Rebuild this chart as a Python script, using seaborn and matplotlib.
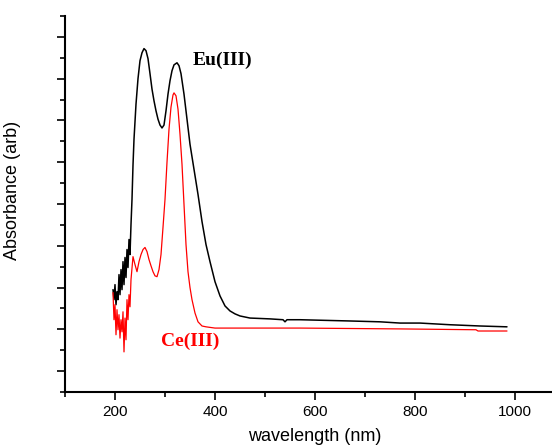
import matplotlib
matplotlib.use("Agg")
import matplotlib.pyplot as plt
from matplotlib.ticker import MultipleLocator
import seaborn as sns
import numpy as np
import pandas as pd

# Eu(III) absorbance spectrum
eu_nm = [196, 198, 200, 202, 204, 206, 208, 210, 212, 214, 216, 218, 220, 222,
         224, 226, 228, 230, 232, 234, 236, 238, 242, 246, 250, 254, 258, 262,
         266, 270, 274, 278, 282, 286, 290, 294, 298, 302, 306, 310, 314, 318,
         324, 328, 332, 338, 344, 350, 358, 366, 374, 382, 390, 400, 410, 420,
         430, 440, 450, 470, 510, 536, 540, 544, 570, 670, 730, 770, 810, 870,
         930, 984]
eu_abs = [0.295, 0.271, 0.307, 0.259, 0.290, 0.271, 0.331, 0.283, 0.343, 0.295,
          0.362, 0.307, 0.372, 0.324, 0.391, 0.348, 0.415, 0.379, 0.451, 0.511,
          0.593, 0.655, 0.739, 0.800, 0.843, 0.862, 0.872, 0.867, 0.848, 0.812,
          0.775, 0.747, 0.723, 0.703, 0.689, 0.682, 0.689, 0.723, 0.763, 0.795,
          0.819, 0.833, 0.838, 0.831, 0.812, 0.763, 0.703, 0.643, 0.583, 0.523,
          0.458, 0.403, 0.362, 0.314, 0.280, 0.256, 0.244, 0.237, 0.232, 0.227,
          0.225, 0.223, 0.218, 0.223, 0.223, 0.220, 0.218, 0.215, 0.215, 0.211,
          0.208, 0.206]

# Ce(III) absorbance spectrum
ce_nm = [196, 198, 200, 202, 204, 206, 208, 210, 212, 214, 216, 218, 220, 222,
         224, 226, 228, 230, 232, 236, 240, 244, 248, 252, 256, 260, 264, 268,
         272, 276, 280, 284, 288, 292, 296, 300, 304, 308, 312, 316, 318, 322,
         326, 330, 334, 338, 342, 346, 350, 354, 360, 366, 374, 382, 400, 470,
         570, 770, 922, 926, 984]
ce_abs = [0.288, 0.223, 0.259, 0.187, 0.247, 0.199, 0.235, 0.179, 0.223, 0.194,
          0.242, 0.146, 0.227, 0.175, 0.271, 0.223, 0.283, 0.254, 0.319, 0.374,
          0.355, 0.338, 0.362, 0.379, 0.391, 0.396, 0.386, 0.367, 0.352, 0.338,
          0.328, 0.326, 0.343, 0.379, 0.444, 0.511, 0.600, 0.679, 0.732, 0.761,
          0.766, 0.759, 0.727, 0.667, 0.595, 0.499, 0.403, 0.338, 0.300, 0.271,
          0.239, 0.218, 0.208, 0.206, 0.203, 0.203, 0.203, 0.201, 0.199, 0.196,
          0.196]

series_names = ["Eu(III)", "Ce(III)"]
series_colors = ["black", "red"]


def main():
    sns.set_style("ticks")
    plt.rcParams["font.family"] = ["Liberation Sans", "DejaVu Sans"]
    plt.rcParams["text.color"] = "black"
    plt.rcParams["axes.labelcolor"] = "black"

    df = pd.concat([
        pd.DataFrame({"wavelength": eu_nm, "absorbance": eu_abs, "ion": series_names[0]}),
        pd.DataFrame({"wavelength": ce_nm, "absorbance": ce_abs, "ion": series_names[1]}),
    ])

    fig = plt.figure(figsize=(5.52, 4.48), dpi=100)
    # axes run past the right edge of the picture, as in the original
    ax = fig.add_axes([65 / 552, 56 / 448, 500 / 552, 376 / 448])

    for name, col, lw in zip(series_names, series_colors, [1.1, 0.9]):
        sns.lineplot(data=df[df.ion == name], x="wavelength", y="absorbance",
                     color=col, linewidth=lw, sort=False, estimator=None, ax=ax)

    ax.set_xlim(100, 1100)
    ax.set_ylim(0.05, 0.95)
    ax.xaxis.set_major_locator(MultipleLocator(200))
    ax.xaxis.set_minor_locator(MultipleLocator(100))
    ax.yaxis.set_major_locator(MultipleLocator(0.1))
    ax.yaxis.set_minor_locator(MultipleLocator(0.05))
    ax.set_yticklabels([])
    ax.tick_params(which="major", direction="out", length=6, width=1.2, labelsize=11,
                   colors="black", labelcolor="black")
    ax.tick_params(which="minor", direction="out", length=3.5, width=1.2, colors="black")

    for side in ["top", "right"]:
        ax.spines[side].set_visible(False)
    for side in ["left", "bottom"]:
        ax.spines[side].set_linewidth(1.5)
        ax.spines[side].set_color("black")

    ax.set_xlabel("wavelength (nm)", fontsize=13, color="black")
    ax.set_ylabel("Absorbance (arb)", fontsize=13, color="black")
    ax.xaxis.set_label_coords(0.5, -0.095)
    ax.yaxis.set_label_coords(-0.088, 0.536)

    ax.text(356, 0.843, "Eu(III)", color="black", fontsize=14, fontweight="bold",
            family="Liberation Serif", va="center", ha="left")
    ax.text(292, 0.172, "Ce(III)", color="red", fontsize=14, fontweight="bold",
            family="Liberation Serif", va="center", ha="left")

    fig.savefig("out.png", dpi=100)


if __name__ == "__main__":
    main()
